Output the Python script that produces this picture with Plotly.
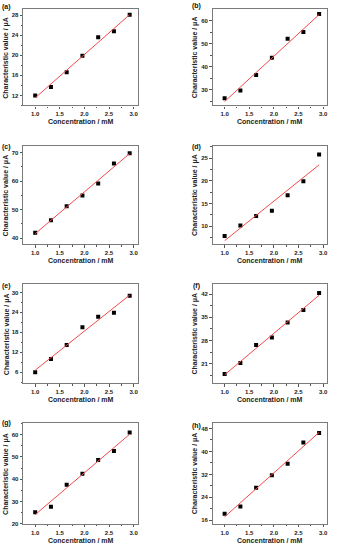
import numpy as np
import plotly.graph_objects as go

# ---------------- data ----------------
concentration = [1.0, 1.32, 1.64, 1.96, 2.28, 2.60, 2.92]
panel_labels = ["(a)", "(b)", "(c)", "(d)", "(e)", "(f)", "(g)", "(h)"]
values_a = [12.0, 13.7, 16.6, 19.9, 23.6, 24.8, 28.1]
values_b = [26.2, 29.6, 36.3, 43.8, 52.1, 55.0, 62.8]
values_c = [41.9, 46.3, 51.2, 54.9, 59.1, 66.1, 69.7]
values_d = [7.8, 10.1, 12.2, 13.4, 16.8, 19.9, 25.8]
values_e = [6.0, 10.0, 14.2, 19.5, 22.7, 23.9, 29.0]
values_f = [17.9, 21.2, 26.6, 28.9, 33.4, 37.2, 42.3]
values_g = [25.2, 27.6, 37.5, 42.5, 48.6, 52.6, 60.9]
values_h = [18.3, 20.8, 27.4, 31.7, 35.7, 43.1, 46.4]
x_ticks = [1.0, 1.5, 2.0, 2.5, 3.0]
x_tick_text = ["1.0", "1.5", "2.0", "2.5", "3.0"]
y_ticks_a = [12, 16, 20, 24, 28]
y_ticks_b = [30, 40, 50, 60]
y_ticks_c = [40, 50, 60, 70]
y_ticks_d = [10, 15, 20, 25]
y_ticks_e = [6, 12, 18, 24, 30]
y_ticks_f = [21, 28, 35, 42]
y_ticks_g = [20, 30, 40, 50, 60]
y_ticks_h = [16, 24, 32, 40, 48]

series = [values_a, values_b, values_c, values_d, values_e, values_f, values_g, values_h]
yticks = [y_ticks_a, y_ticks_b, y_ticks_c, y_ticks_d, y_ticks_e, y_ticks_f, y_ticks_g, y_ticks_h]

# ---------------- layout geometry (pixels) ----------------
W, H = 341, 550
y_ranges = [[10.0, 29.2], [23.1, 64.9], [37.9, 72.3], [6.0, 27.7],
            [2.8, 32.4], [15.2, 44.9], [20.0, 65.2], [14.8, 49.9]]
col_px = [(23.3, 138.3), (213.3, 328.3)]
row_px = [(9.3, 106.0), (146.7, 245.5), (286.0, 385.0), (425.3, 526.7)]
xtitle_px = [122.3, 262.3, 402.0, 543.0]
ytitle_x_px = [6.5, 195.5]
label_x_px = [6.8, 196.7]
label_y_px = [[7.3, 6.5], [148.0, 148.0], [288.0, 288.0], [425.5, 428.0]]

FONT = "Liberation Sans, Arial, sans-serif"
frame_col = "#7a7a7a"
fit_col = "#f24a4a"


def px_x(v):
    return v / W


def px_y(v):
    return 1 - v / H


fig = go.Figure()
annotations = []

for i, vals in enumerate(series):
    r, c = divmod(i, 2)
    n = i + 1
    xa = "x" if n == 1 else f"x{n}"
    ya = "y" if n == 1 else f"y{n}"
    # scatter points
    fig.add_trace(go.Scatter(
        x=concentration, y=vals, mode="markers", xaxis=xa, yaxis=ya,
        marker=dict(symbol="square", size=4, color="black"),
        showlegend=False, hoverinfo="x+y"))
    # least-squares fit line
    k, b0 = np.polyfit(concentration, vals, 1)
    xf = [concentration[0], concentration[-1]]
    fig.add_trace(go.Scatter(
        x=xf, y=[k * xv + b0 for xv in xf], mode="lines", xaxis=xa, yaxis=ya,
        line=dict(color=fit_col, width=1), showlegend=False, hoverinfo="skip"))

    x0, x1 = col_px[c]
    t, btm = row_px[r]
    xdom = [px_x(x0), px_x(x1)]
    ydom = [px_y(btm), px_y(t)]
    axis_common = dict(showline=True, mirror=True, linecolor=frame_col, linewidth=1.3,
                       ticks="outside", ticklen=2.5, tickwidth=1, tickcolor="#555",
                       showgrid=False, zeroline=False,
                       tickfont=dict(family=FONT, size=6, color="#222", weight="bold"))
    fig.layout[("xaxis" if n == 1 else f"xaxis{n}")] = dict(
        domain=xdom, anchor=ya, range=[0.757, 3.087],
        tickvals=x_ticks, ticktext=x_tick_text,
        minor=dict(dtick=0.25, tick0=0, ticks="outside", ticklen=1.5, tickcolor="#555"),
        **axis_common)
    dt = yticks[i][1] - yticks[i][0]
    fig.layout[("yaxis" if n == 1 else f"yaxis{n}")] = dict(
        domain=ydom, anchor=xa, range=y_ranges[i],
        tickvals=yticks[i],
        minor=dict(dtick=dt / 2, tick0=yticks[i][0], ticks="outside", ticklen=1.5, tickcolor="#555"),
        **axis_common)

    # axis titles
    annotations.append(dict(
        text="Concentration / mM", xref="paper", yref="paper",
        x=px_x((x0 + x1) / 2), y=px_y(xtitle_px[r]), showarrow=False,
        xanchor="center", yanchor="middle",
        font=dict(family=FONT, size=7, color="#222", weight="bold")))
    annotations.append(dict(
        text="Characteristic value / \u03bcA", xref="paper", yref="paper",
        x=px_x(ytitle_x_px[c]), y=px_y((t + btm) / 2), showarrow=False, textangle=-90,
        xanchor="center", yanchor="middle",
        font=dict(family=FONT, size=7, color="#222", weight="bold")))
    annotations.append(dict(
        text=panel_labels[i], xref="paper", yref="paper",
        x=px_x(label_x_px[c]), y=px_y(label_y_px[r][c]), showarrow=False,
        xanchor="center", yanchor="middle",
        font=dict(family=FONT, size=7, color="#111", weight="bold")))

fig.update_layout(width=W, height=H, margin=dict(l=0, r=0, t=0, b=0),
                  paper_bgcolor="white", plot_bgcolor="white",
                  annotations=annotations, showlegend=False)

fig.write_html("out.html", config={"displayModeBar": False},
               post_script="document.body.style.margin='0px';document.body.style.overflow='hidden';")
